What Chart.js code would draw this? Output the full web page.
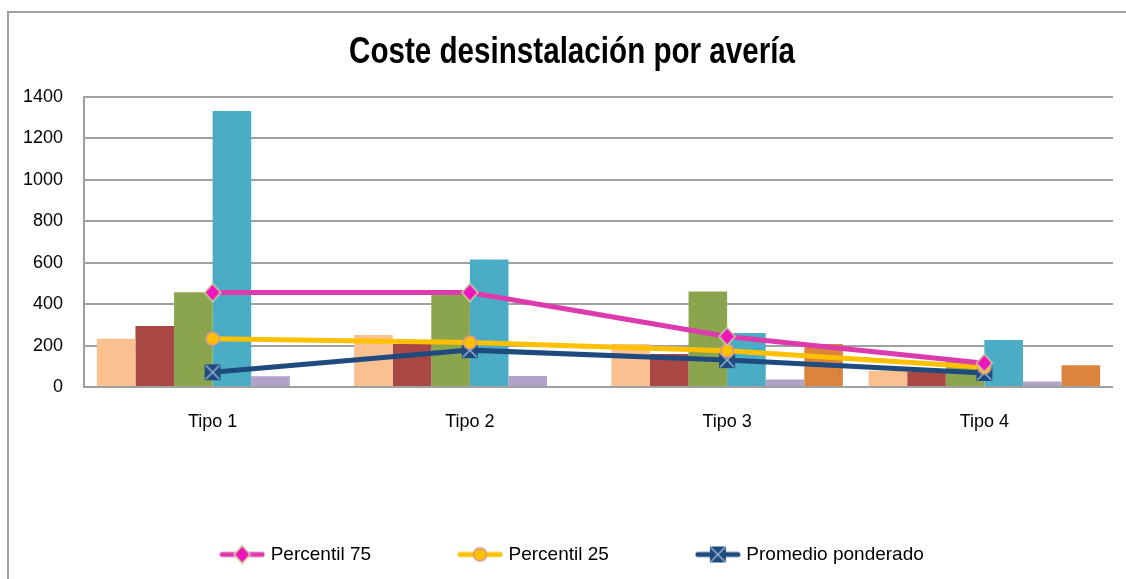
<!DOCTYPE html>
<html>
<head>
<meta charset="utf-8">
<script src="https://cdn.jsdelivr.net/npm/chart.js@4/dist/chart.umd.min.js"></script>
<style>
html, body { margin: 0; padding: 0; background: #fff; }
#wrap { position: relative; width: 1126px; height: 579px; overflow: hidden; }
#frame { position: absolute; left: 7px; top: 11px; width: 1300px; height: 800px;
         border-top: 2px solid #a0a0a0; border-left: 2px solid #a0a0a0; }
#chart { position: absolute; left: 0; top: 0; }
</style>
</head>
<body>
<div id="wrap">
  <div id="frame"></div>
  <canvas id="chart" width="1126" height="579"></canvas>
</div>
<script>
// ------------------- Datos -------------------
const chartTitle = 'Coste desinstalación por avería';
const categories = ['Tipo 1', 'Tipo 2', 'Tipo 3', 'Tipo 4'];
const serie1 = [233, 251, 207, 78];
const serie2 = [295, 207, 159, 75];
const serie3 = [458, 445, 461, 122];
const serie4 = [1333, 615, 261, 227];
const serie5 = [52, 53, 36, 26];
const serie6 = [0, 0, 207, 105];
const percentil75 = [456, 456, 244, 115];
const percentil25 = [233, 215, 175, 95];
const promedioPonderado = [71, 178, 130, 68];
const yTicks = [0, 200, 400, 600, 800, 1000, 1200, 1400];

const FONT = "'Liberation Sans', Arial, sans-serif";

// ------------------- Marcadores -------------------
function makeMarker(kind, withLine) {
    const c = document.createElement('canvas');
    c.width = withLine ? 46 : 20;
    c.height = 20;
    const g = c.getContext('2d');
    const cx = c.width / 2, cy = 10;
    if (withLine) {
        g.strokeStyle = kind === 'diamond' ? '#dd3aae' : kind === 'circle' ? '#ffc000' : '#1f4a7e';
        g.lineWidth = 5;
        g.lineCap = 'round';
        g.beginPath(); g.moveTo(3, cy); g.lineTo(c.width - 3, cy); g.stroke();
    }
    if (kind === 'diamond') {
        g.beginPath();
        g.moveTo(cx, cy - 9); g.lineTo(cx + 8, cy); g.lineTo(cx, cy + 9); g.lineTo(cx - 8, cy); g.closePath();
        g.fillStyle = '#ee16bb'; g.fill();
        g.strokeStyle = '#c3d69b'; g.lineWidth = 1.5; g.stroke();
    } else if (kind === 'circle') {
        g.beginPath(); g.arc(cx, cy, 6.5, 0, Math.PI * 2);
        g.fillStyle = '#ffc000'; g.fill();
        g.strokeStyle = '#d99694'; g.lineWidth = 1.5; g.stroke();
    } else {
        g.fillStyle = '#1f4a7e';
        g.fillRect(cx - 8, cy - 8, 16, 16);
        g.strokeStyle = '#95b3d7'; g.lineWidth = 1.5;
        g.beginPath();
        g.moveTo(cx - 7, cy - 7); g.lineTo(cx + 7, cy + 7);
        g.moveTo(cx + 7, cy - 7); g.lineTo(cx - 7, cy + 7);
        g.stroke();
    }
    return c;
}

const markers = {
    p75: makeMarker('diamond', false),
    p25: makeMarker('circle', false),
    prom: makeMarker('square', false)
};
const legendIcons = [makeMarker('diamond', true), makeMarker('circle', true), makeMarker('square', true)];

function lineSet(label, data, color, marker) {
    return {
        type: 'line', label, data, order: 0,
        borderColor: color, backgroundColor: color, borderWidth: 5,
        tension: 0, fill: false,
        pointStyle: marker, pointRadius: 8
    };
}
function barSet(label, data, color) {
    return { type: 'bar', label, data, order: 1, backgroundColor: color, borderWidth: 0 };
}

// titulo estrecho (la fuente original es condensada)
const narrowTitle = {
    id: 'narrowTitle',
    afterLayout(chart) {
        // leyenda un poco a la derecha, como en el original
        chart.legend.left += 28;
    },
    afterDraw(chart) {
        const ctx = chart.ctx;
        ctx.save();
        ctx.font = 'bold 36px ' + FONT;
        const w = ctx.measureText(chartTitle).width;
        ctx.translate(572, 63);
        ctx.scale(446 / w, 1);
        ctx.textAlign = 'center';
        ctx.textBaseline = 'alphabetic';
        ctx.fillStyle = '#000';
        ctx.fillText(chartTitle, 0, 0);
        ctx.restore();
    }
};

// ------------------- Gráfico -------------------
new Chart(document.getElementById('chart'), {
    data: {
        labels: categories,
        datasets: [
            lineSet('Percentil 75', percentil75, '#dd3aae', markers.p75),
            lineSet('Percentil 25', percentil25, '#ffc000', markers.p25),
            lineSet('Promedio ponderado', promedioPonderado, '#1f4a7e', markers.prom),
            barSet('Serie 1', serie1, '#fac090'),
            barSet('Serie 2', serie2, '#a94744'),
            barSet('Serie 3', serie3, '#8ba54e'),
            barSet('Serie 4', serie4, '#4bacc6'),
            barSet('Serie 5', serie5, '#b3a2c7'),
            barSet('Serie 6', serie6, '#db843d')
        ]
    },
    plugins: [narrowTitle],
    options: {
        responsive: false,
        animation: false,
        devicePixelRatio: 1,
        datasets: { bar: { categoryPercentage: 0.9, barPercentage: 1.0 } },
        layout: { padding: { left: 6, right: 13, top: 97, bottom: 5 } },
        plugins: {
            title: { display: false },
            legend: {
                position: 'bottom',
                labels: {
                    color: '#000',
                    font: { family: FONT, size: 19 },
                    usePointStyle: true,
                    pointStyleWidth: 38,
                    padding: 90,
                    generateLabels: chart => chart.data.datasets.slice(0, 3).map((ds, i) => ({
                        text: ds.label,
                        pointStyle: legendIcons[i],
                        datasetIndex: i,
                        fillStyle: ds.borderColor,
                        strokeStyle: ds.borderColor,
                        lineWidth: 0,
                        fontColor: '#000',
                        hidden: false
                    }))
                }
            },
            tooltip: { enabled: false }
        },
        scales: {
            x: {
                grid: { display: false },
                border: { display: false },
                ticks: { color: '#000', font: { family: FONT, size: 18 }, padding: 16 },
                afterFit: scale => { scale.height = 68; }
            },
            y: {
                min: 0, max: 1400,
                afterBuildTicks: scale => { scale.ticks = yTicks.map(v => ({ value: v })); },
                grid: { color: '#a0a0a0', lineWidth: 2, drawTicks: false },
                border: { display: true, color: '#a0a0a0', width: 2 },
                ticks: { color: '#000', font: { family: FONT, size: 18 }, padding: 21,
                         callback: v => String(v) },
                afterFit: scale => { scale.width = 78; }
            }
        }
    }
});
</script>
</body>
</html>
